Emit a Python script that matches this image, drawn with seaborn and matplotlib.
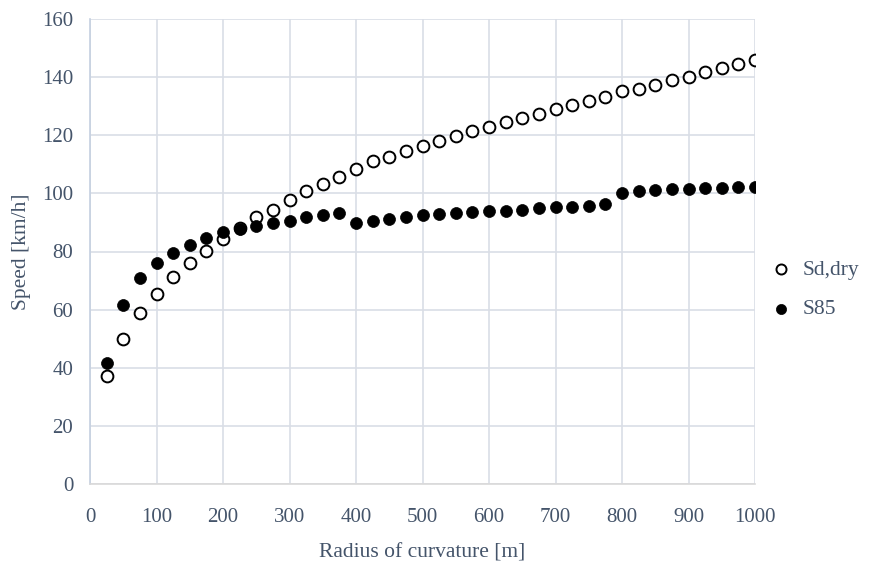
import matplotlib
matplotlib.use("Agg")
import matplotlib.pyplot as plt
import seaborn as sns
import pandas as pd

radius = [25, 50, 75, 100, 125, 150, 175, 200, 225, 250, 275, 300, 325, 350, 375, 400,
          425, 450, 475, 500, 525, 550, 575, 600, 625, 650, 675, 700, 725, 750, 775, 800,
          825, 850, 875, 900, 925, 950, 975, 1000]
sd_dry = [37.3, 49.9, 58.8, 65.4, 71.1, 75.9, 80.3, 84.3, 88.0, 91.8, 94.4, 97.7, 100.7, 103.2,
          105.7, 108.3, 111.0, 112.6, 114.5, 116.2, 118.0, 119.7, 121.3, 122.9, 124.6, 126.1,
          127.4, 129.1, 130.3, 131.8, 133.1, 135.1, 136.0, 137.4, 139.1, 140.0, 141.6, 143.2,
          144.6, 146.0]
s85 = [41.6, 61.7, 70.9, 75.9, 79.5, 82.4, 84.5, 86.6, 87.7, 88.7, 89.8, 90.6, 91.7, 92.6,
       93.1, 89.9, 90.5, 91.3, 91.8, 92.6, 92.8, 93.1, 93.5, 93.9, 94.1, 94.3, 94.9, 95.4,
       95.4, 95.7, 96.3, 100.2, 100.8, 101.1, 101.4, 101.4, 101.7, 101.9, 102.3, 102.3]
x_ticks = list(range(0, 1001, 100))
y_ticks = list(range(0, 161, 20))

sns.set_theme(style="whitegrid")
plt.rcParams['font.family'] = ['Liberation Serif', 'DejaVu Serif']
txt = "#44546A"

df = pd.DataFrame({"radius": radius, "Sd,dry": sd_dry, "S85": s85})

fig = plt.figure(figsize=(8.83, 5.63), dpi=100)
ax = fig.add_axes([90/883, 1-484/563, (755-90)/883, (484-19)/563])

sns.scatterplot(data=df, x="radius", y="Sd,dry", ax=ax, s=72, facecolor="white",
                edgecolor="black", linewidth=1.4, label="Sd,dry", zorder=3)
sns.scatterplot(data=df, x="radius", y="S85", ax=ax, s=74, color="black",
                edgecolor="black", linewidth=0.5, label="S85", zorder=4)

ax.set_xlim(0, 1000)
ax.set_ylim(0, 160)
ax.set_xticks(x_ticks)
ax.set_yticks(y_ticks)
ax.grid(True, color="#D9DEE6", linewidth=1.2)
for s in ["top", "right"]:
    ax.spines[s].set_visible(False)
ax.spines["left"].set_color("#C5D0E0")
ax.spines["bottom"].set_color("#D9D9D9")
ax.spines["left"].set_linewidth(1.2)
ax.spines["bottom"].set_linewidth(1.2)
ax.tick_params(axis="both", colors=txt, labelsize=15, length=0)
ax.tick_params(axis="x", pad=17)
ax.tick_params(axis="y", pad=12)
ax.set_xlabel("Radius of curvature [m]", color=txt, fontsize=15.5, labelpad=12)
ax.set_ylabel("Speed [km/h]", color=txt, fontsize=15.5, labelpad=8)

leg = ax.legend(loc="center left", bbox_to_anchor=(0.978, 0.418), frameon=False,
                fontsize=15.5, labelspacing=0.9, handletextpad=0.0, markerscale=0.85)
for t in leg.get_texts():
    t.set_color(txt)

fig.savefig("out.png", dpi=100)
